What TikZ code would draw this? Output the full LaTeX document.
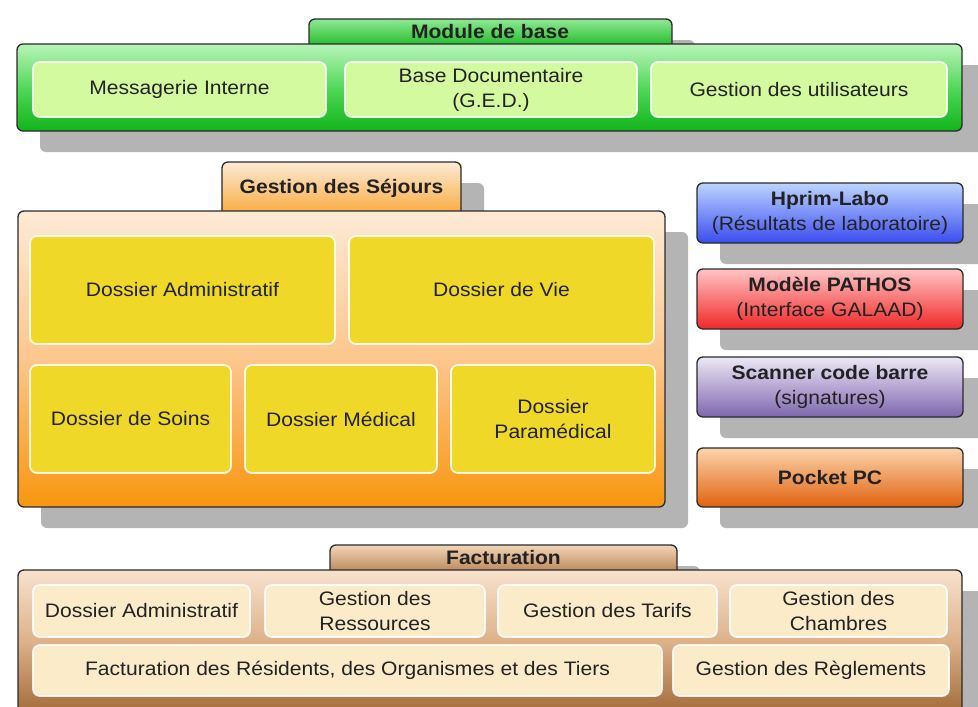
\documentclass[tikz,border=0pt]{standalone}
\usepackage{fontspec}
\setmainfont{Liberation Sans}[FakeStretch=1.08]
\usetikzlibrary{shadows}
\definecolor{shadowgray}{HTML}{B4B4B4}
\definecolor{edge}{HTML}{2A2A2A}
\definecolor{txt}{HTML}{222222}
\definecolor{gTop}{HTML}{B8F4B8}
\definecolor{gMid}{HTML}{52D85A}
\definecolor{gBot}{HTML}{10B41A}
\definecolor{gIn}{HTML}{D4FAA0}
\definecolor{oTop}{HTML}{FDEAD6}
\definecolor{oMid}{HTML}{FCC68C}
\definecolor{oBot}{HTML}{F8960E}
\definecolor{yIn}{HTML}{F0D828}
\definecolor{bTop}{HTML}{BCD4FF}
\definecolor{bBot}{HTML}{3A4CF0}
\definecolor{rTop}{HTML}{FFC4C4}
\definecolor{rBot}{HTML}{F02828}
\definecolor{vTop}{HTML}{ECE8F6}
\definecolor{vBot}{HTML}{7E66AE}
\definecolor{pTop}{HTML}{FCD4AC}
\definecolor{pBot}{HTML}{E0620E}
\definecolor{fTop}{HTML}{F8E2CC}
\definecolor{fMid}{HTML}{DCB088}
\definecolor{fBot}{HTML}{A06836}
\definecolor{ftTop}{HTML}{F2D6B8}
\definecolor{ftBot}{HTML}{B27A4A}
\definecolor{cIn}{HTML}{FCEBC8}
\tikzset{
  place/.style n args={4}{minimum width={#3-#1}, minimum height={#4-#2},
    at={({(#1+#3)/2},{(#2+#4)/2})}, anchor=center},
  txtfont/.style={font=\fontsize{19.5}{25}\selectfont, text=txt, align=center},
  boldfont/.style={font=\fontsize{19.5}{25}\selectfont\bfseries, text=txt, align=center},
  frame/.style={draw=edge, line width=1.3pt, rounded corners=6pt, inner sep=0pt,
    drop shadow={shadow xshift=23pt, shadow yshift=-21pt, fill=shadowgray, opacity=1}},
  innerbox/.style={draw=white, draw opacity=0.85, line width=1.8pt, rounded corners=7pt,
    inner sep=0pt, txtfont},
  greenbg/.style={top color=gTop, bottom color=gBot, middle color=gMid},
  orangebg/.style={top color=oTop, bottom color=oBot, middle color=oMid},
  brownbg/.style={top color=fTop, bottom color=fBot, middle color=fMid},
}
\begin{document}
\begin{tikzpicture}[x=1pt,y=-1pt]
\useasboundingbox (0,0) rectangle (978,707);
\fill[white] (0,0) rectangle (978,707);

% ---------- Module de base ----------
\node[frame, top color=gTop!60!gMid, bottom color=gBot, place={309}{19}{672}{50}] (mbtab) {};
\node[boldfont] (mbtitle) at (490,31.5) {Module de base};
\node[frame, greenbg, place={17}{44}{962}{131}] (mb) {};
\node[innerbox, fill=gIn, place={33}{62}{326}{117}] (msg) {Messagerie Interne};
\node[innerbox, fill=gIn, place={345}{62}{637}{117}] (ged) {Base Documentaire\\(G.E.D.)};
\node[innerbox, fill=gIn, place={651}{62}{947}{117}] (usr) {Gestion des utilisateurs};

% ---------- Gestion des Sejours ----------
\node[frame, top color=oTop, bottom color=oBot!85!white, place={222}{162}{461}{218}] (gstab) {};
\node[boldfont] (gstitle) at (341.5,188) {Gestion des Séjours};
\node[frame, orangebg, place={18}{211}{665}{507}] (gs) {};
\node[innerbox, fill=yIn, place={30}{236}{335}{344}] (dadm) {Dossier Administratif};
\node[innerbox, fill=yIn, place={349}{236}{654}{344}] (dvie) {Dossier de Vie};
\node[innerbox, fill=yIn, place={30}{365}{231}{473}] (dsoin) {Dossier de Soins};
\node[innerbox, fill=yIn, place={245}{365}{437}{473}] (dmed) {Dossier Médical};
\node[innerbox, fill=yIn, place={451}{365}{655}{473}] (dpara) {Dossier\\Paramédical};

% ---------- Right column ----------
\node[frame, txtfont, top color=bTop, bottom color=bBot, place={697}{183}{963}{243}] (hprim)
  {\textbf{Hprim-Labo}\\(Résultats de laboratoire)};
\node[frame, txtfont, top color=rTop, bottom color=rBot, place={697}{269}{963}{329}] (pathos)
  {\textbf{Modèle PATHOS}\\(Interface GALAAD)};
\node[frame, txtfont, top color=vTop, bottom color=vBot, place={697}{357}{963}{417}] (scan)
  {\textbf{Scanner code barre}\\(signatures)};
\node[frame, txtfont, top color=pTop, bottom color=pBot, place={697}{448}{963}{507}] (pocket)
  {\textbf{Pocket PC}};

% ---------- Facturation ----------
\node[frame, top color=ftTop, bottom color=ftBot, place={330}{545}{677}{576}] (ftab) {};
\node[boldfont] (ftitle) at (503.5,557.5) {Facturation};
\node[frame, brownbg, place={18}{570}{962}{716}] (fact) {};
\node[innerbox, fill=cIn, place={33}{585}{250}{637}] (fadm) {Dossier Administratif};
\node[innerbox, fill=cIn, place={265}{585}{485}{637}] (fres) {Gestion des\\Ressources};
\node[innerbox, fill=cIn, place={498}{585}{717}{637}] (ftar) {Gestion des Tarifs};
\node[innerbox, fill=cIn, place={730}{585}{947}{637}] (fcha) {Gestion des\\Chambres};
\node[innerbox, fill=cIn, place={33}{645}{662}{696}] (ffac) {Facturation des Résidents, des Organismes et des Tiers};
\node[innerbox, fill=cIn, place={673}{645}{949}{696}] (freg) {Gestion des Règlements};
\end{tikzpicture}
\end{document}
